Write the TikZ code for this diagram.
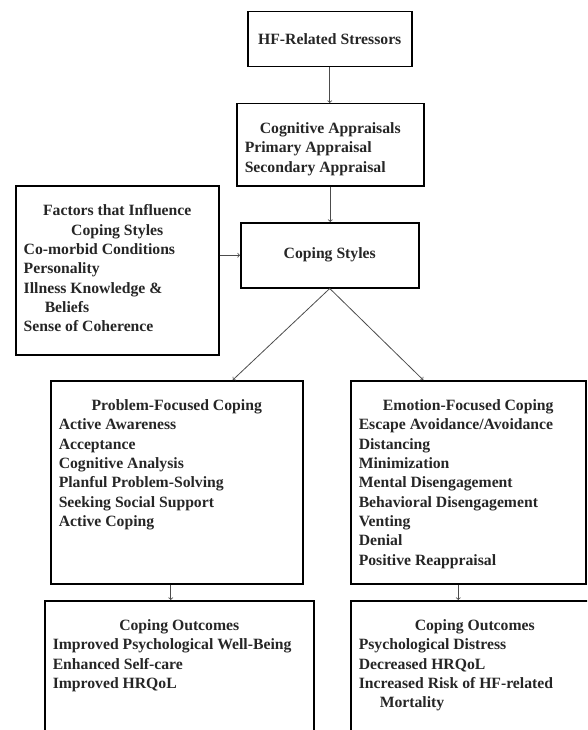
\documentclass[tikz,border=0pt]{standalone}
\usepackage{fontspec}
\setmainfont{Liberation Serif}
\usetikzlibrary{positioning, arrows}
\tikzset{
	>=to,
	boxnode/.style={draw, line width=1.5pt, inner sep=0pt, anchor=north west,
		text=black!85, font=\fontsize{15.7}{19.3}\selectfont\bfseries},
	flow/.style={->, line width=0.8pt, draw=black!70}
}
\newcommand{\boxtext}[3]{\parbox[c][#2][t]{#1}{\vspace*{19pt}#3}}
\newcommand{\boxtitle}[1]{{\centering #1\par}\raggedright\leftskip=8pt\relax}

\begin{document}
\begin{tikzpicture}[x=1pt, y=-1pt]
	\clip (0,0) rectangle (587,730);
	\node[boxnode, minimum width=164pt, minimum height=55pt] (stress) at (247,11) {HF-Related Stressors};
	\node[boxnode] (apprais) at (236,103) {\boxtext{187pt}{82pt}{\boxtitle{Cognitive Appraisals}Primary Appraisal\\Secondary Appraisal}};
	\node[boxnode, minimum width=178pt, minimum height=65pt] (styles) at (240,222) {Coping Styles};
	\node[boxnode] (factors) at (15,185) {\boxtext{203pt}{169pt}{\boxtitle{Factors that Influence\\Coping Styles}Co-morbid Conditions\\Personality\\Illness Knowledge \&\\\hspace*{21pt}Beliefs\\Sense of Coherence}};
	\node[boxnode] (probl) at (50,380) {\boxtext{252pt}{203pt}{\boxtitle{Problem-Focused Coping}Active Awareness\\Acceptance\\Cognitive Analysis\\Planful Problem-Solving\\Seeking Social Support\\Active Coping}};
	\node[boxnode] (emot) at (350,380) {\boxtext{235pt}{203pt}{\boxtitle{Emotion-Focused Coping}Escape Avoidance/Avoidance\\Distancing\\Minimization\\Mental Disengagement\\Behavioral Disengagement\\Venting\\Denial\\Positive Reappraisal}};
	\node[boxnode] (outL) at (44,600) {\boxtext{269pt}{132pt}{\boxtitle{Coping Outcomes}Improved Psychological Well-Being\\Enhanced Self-care\\Improved HRQoL}};
	\node[boxnode] (outR) at (350,600) {\boxtext{248pt}{132pt}{\boxtitle{Coping Outcomes}Psychological Distress\\Decreased HRQoL\\Increased Risk of HF-related\\\hspace*{21pt}Mortality}};
	\path[every edge/.style={draw, flow}]
	(stress.south) edge (stress.south |- apprais.north)
	(apprais.south) edge (apprais.south |- styles.north)
	(styles.west -| factors.east) edge (styles.west)
	(styles.south) edge ([xshift=56pt]probl.north)
	(styles.south) edge ([xshift=-45pt]emot.north)
	([xshift=-6pt]probl.south) edge ([xshift=-6pt]probl.south |- outL.north)
	([xshift=-10pt]emot.south) edge ([xshift=-10pt]emot.south |- outR.north)
	;
\end{tikzpicture}
\end{document}
